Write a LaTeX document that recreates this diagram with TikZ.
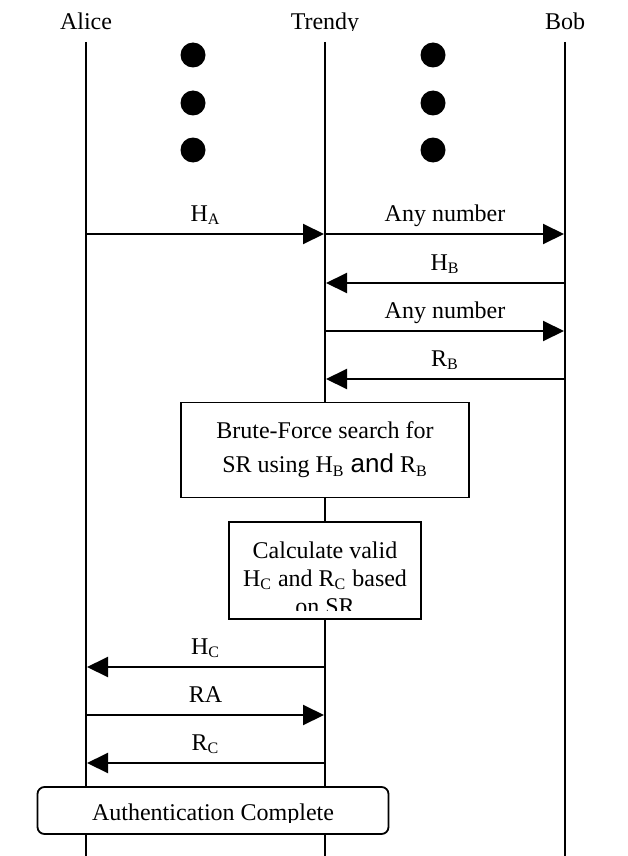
\documentclass[tikz,border=0pt]{standalone}
\usepackage{fontspec}
\setmainfont{Liberation Serif}
\newfontfamily\andfont{Liberation Sans}
\usetikzlibrary{arrows.meta,positioning}

\tikzset{
  life/.style={line width=0.85pt},
  msg/.style={line width=1pt, -{Triangle[length=10.5pt,width=10pt]}, shorten >=0.5pt},
  msglabel/.style={midway, anchor=base, yshift=6.5pt},
  stepbox/.style={draw, fill=white, line width=0.9pt, align=center},
}

\begin{document}
\begin{tikzpicture}[x=0.5pt, y=-0.5pt, font=\fontsize{12}{14}\selectfont]
\useasboundingbox (0,0) rectangle (627,856);

% actors
\node[anchor=base] (alice) at (86,30) {Alice};
\node[anchor=base] (bob) at (565,30) {Bob};
\begin{scope}
  \clip (250,0) rectangle (400,31);
  \node[anchor=base] (trendy) at (325,30) {Trendy};
\end{scope}

% lifelines
\foreach \who/\x in {alice/86, trendy/325, bob/565} {
  \coordinate (\who top) at (\x,42);
  \coordinate (\who bot) at (\x,856);
  \draw[life] (\who top) -- (\who bot);
}

% the dots
\foreach \y in {55,103,150} {
  \fill (193,\y) circle (6.25pt);
  \fill (433,\y) circle (6.25pt);
}

% message rows
\foreach \n/\y in {1/234,2/283,3/331,4/379,5/667,6/715,7/763} {
  \coordinate (a\n) at (86,\y);
  \coordinate (t\n) at (325,\y);
  \coordinate (b\n) at (565,\y);
}

\draw[msg] (a1) -- (t1) node[msglabel]{H\textsubscript{A}};
\draw[msg] (t1) -- (b1) node[msglabel]{Any number};
\draw[msg] (b2) -- (t2) node[msglabel]{H\textsubscript{B}};
\draw[msg] (t3) -- (b3) node[msglabel]{Any number};
\draw[msg] (b4) -- (t4) node[msglabel]{R\textsubscript{B}};

% Trendy works it out
\node[stepbox, minimum width=144pt, minimum height=47.5pt] (brute) at (325,450)
  {Brute-Force search for\\[3pt]
   SR using H\textsubscript{B} {\andfont\fontsize{13}{13}\selectfont and} R\textsubscript{B}};

\node[stepbox, minimum width=96pt, minimum height=48.5pt] (calc) at (325,570.5) {};
\begin{scope}
  \clip (calc.north west) rectangle (421,610);
  \node[align=center, anchor=north, inner sep=0pt] (calctext) at (325,541)
    {Calculate valid\\ H\textsubscript{C} and R\textsubscript{C} based\\ on SR};
\end{scope}

\draw[msg] (t5) -- (a5) node[msglabel]{H\textsubscript{C}};
\draw[msg] (a6) -- (t6) node[msglabel]{RA};
\draw[msg] (t7) -- (a7) node[msglabel]{R\textsubscript{C}};

% done
\node[stepbox, rounded corners=3.5pt, minimum width=175.5pt, minimum height=23.5pt] (auth) at (213,810.5) {};
\begin{scope}
  \clip (auth.north west) rectangle (389,822);
  \node[anchor=base] (authtext) at (213,820) {Authentication Complete};
\end{scope}
\end{tikzpicture}
\end{document}
